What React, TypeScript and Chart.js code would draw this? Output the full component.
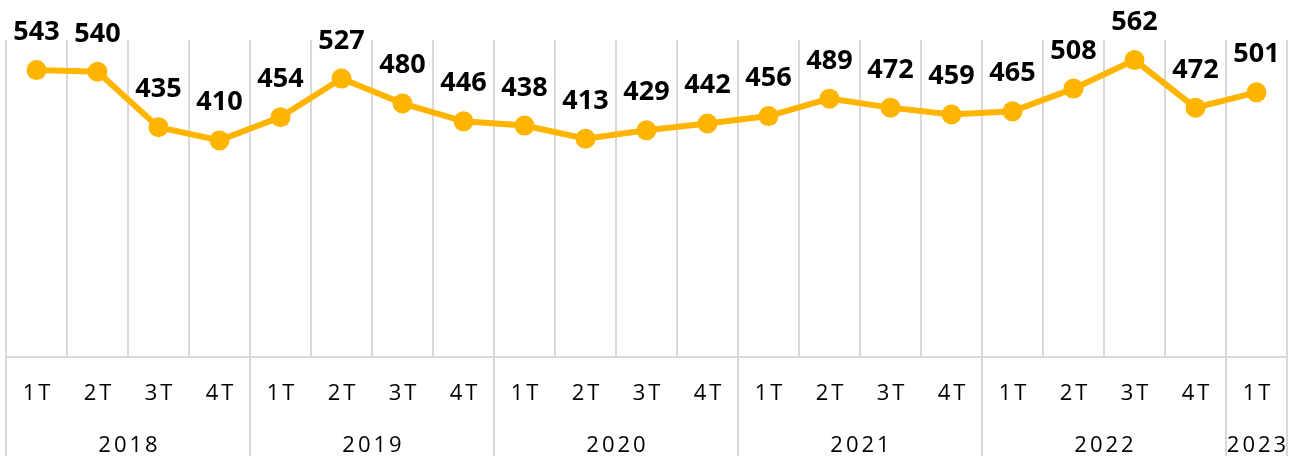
import React, { useEffect, useRef } from "react";
import { Chart, registerables } from "chart.js";

Chart.register(...registerables);

const quarters = ["1T", "2T", "3T", "4T", "1T", "2T", "3T", "4T", "1T", "2T", "3T", "4T", "1T", "2T", "3T", "4T", "1T", "2T", "3T", "4T", "1T"];
const years = ["2018", "2019", "2020", "2021", "2022", "2023"];
const yearSpans = [4, 4, 4, 4, 4, 1];
const values = [543, 540, 435, 410, 454, 527, 480, 446, 438, 413, 429, 442, 456, 489, 472, 459, 465, 508, 562, 472, 501];

const LINE = "#FFB400";
const GRID = "#D9D9D9";

const customPlugin = {
  id: "custom",
  afterDraw(chart: any) {
    const ctx = chart.ctx;
    const x = chart.scales.x;
    const area = chart.chartArea;
    const step = x.getPixelForValue(1) - x.getPixelForValue(0);
    ctx.save();
    ctx.strokeStyle = GRID;
    ctx.lineWidth = 2;
    let idx = 0;
    const bounds = [0];
    yearSpans.forEach((s) => {
      idx += s;
      bounds.push(idx);
    });
    bounds.forEach((b) => {
      const px = x.getPixelForValue(b) - step / 2;
      ctx.beginPath();
      ctx.moveTo(px, area.bottom);
      ctx.lineTo(px, chart.height);
      ctx.stroke();
    });
    ctx.fillStyle = "#000";
    ctx.textAlign = "center";
    ctx.textBaseline = "alphabetic";
    ctx.font = "22px 'Open Sans'";
    (ctx as any).letterSpacing = "3px";
    quarters.forEach((q, i) => {
      ctx.fillText(q, x.getPixelForValue(i) + 1.5, 400);
    });
    let start = 0;
    years.forEach((y, i) => {
      const end = start + yearSpans[i] - 1;
      const cx = (x.getPixelForValue(start) + x.getPixelForValue(end)) / 2;
      ctx.fillText(y, cx + 1.5, 452);
      start += yearSpans[i];
    });
    (ctx as any).letterSpacing = "0px";
    ctx.font = "bold 27px 'Open Sans'";
    const meta = chart.getDatasetMeta(0);
    meta.data.forEach((pt: any, i: number) => {
      ctx.fillText(String(values[i]), pt.x, pt.y - 30);
    });
    ctx.restore();
  },
};

export default function App() {
  const ref = useRef<HTMLCanvasElement | null>(null);
  useEffect(() => {
    document.body.style.margin = "0";
    const chart = new Chart(ref.current as HTMLCanvasElement, {
      type: "line",
      data: {
        labels: quarters,
        datasets: [
          {
            data: values,
            borderColor: LINE,
            backgroundColor: LINE,
            borderWidth: 6,
            pointRadius: 10,
            pointBorderWidth: 0,
            pointBackgroundColor: LINE,
            tension: 0,
          },
        ],
      },
      options: {
        animation: false,
        responsive: false,
        layout: { autoPadding: false, padding: { left: 6, right: 13, top: 40, bottom: 0 } },
        plugins: { legend: { display: false }, tooltip: { enabled: false } },
        scales: {
          x: {
            type: "category",
            offset: true,
            grid: { offset: true, color: GRID, lineWidth: 2, drawTicks: false },
            border: { display: true, color: GRID, width: 2 },
            ticks: { display: false },
            afterFit: (scale: any) => {
              scale.height = 99;
            },
          },
          y: {
            display: false,
            min: 0,
            max: 600,
          },
        },
      },
      plugins: [customPlugin],
    });
    return () => chart.destroy();
  }, []);
  return (
    <div style={{ width: 1300, height: 456 }}>
      <canvas ref={ref} width={1300} height={456} />
    </div>
  );
}
